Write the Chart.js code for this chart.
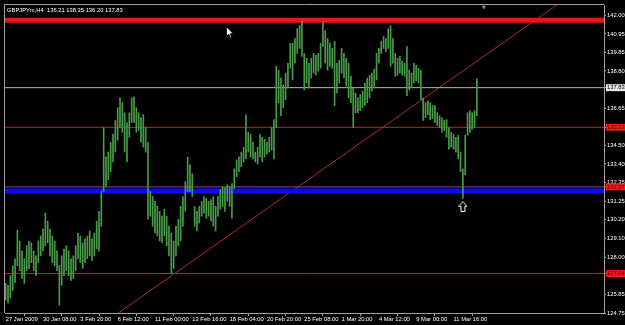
<!DOCTYPE html>
<html>
<head>
<meta charset="utf-8">
<script src="https://cdn.jsdelivr.net/npm/chart.js@4.4.1/dist/chart.umd.min.js"></script>
<style>
  html, body { margin: 0; padding: 0; background: #000; }
  canvas { display: block; }
</style>
</head>
<body>
<canvas id="chart" width="625" height="325"></canvas>
<script>
// GBPJPY H4 bars (one entry per bar, oldest first)
const barHigh = [
  126.47, 126.36, 126.92, 127.50, 127.90, 129.56, 128.93, 128.36, 127.90, 128.65,
  128.93, 128.82, 128.36, 128.07, 128.93, 129.22, 129.62, 130.54, 130.08, 129.62,
  129.22, 128.93, 128.36, 127.50, 128.07, 128.48, 128.65, 128.36, 127.90, 128.07,
  128.65, 129.39, 129.22, 128.82, 129.05, 129.22, 129.51, 129.05, 129.39, 130.08,
  130.65, 131.80, 135.52, 133.81, 134.09, 134.66, 135.12, 135.93, 136.67, 137.24,
  136.96, 136.38, 135.81, 136.38, 137.24, 137.30, 136.67, 136.38, 136.10, 136.27,
  135.52, 134.66, 131.80, 131.51, 131.23, 130.94, 130.65, 130.37, 130.77, 130.37,
  129.79, 129.39, 128.93, 129.79, 130.19, 130.94, 131.51, 132.37, 133.81, 133.35,
  132.83, 130.94, 130.65, 130.94, 131.23, 131.51, 131.40, 131.23, 131.34, 131.51,
  130.94, 131.51, 131.91, 132.09, 132.03, 132.20, 132.09, 132.26, 133.12, 133.63,
  133.81, 134.09, 134.38, 136.27, 135.24, 135.12, 134.66, 134.09, 134.38, 135.12,
  134.95, 134.84, 134.66, 134.95, 135.52, 135.98, 139.08, 138.85, 138.39, 137.99,
  138.68, 139.25, 140.40, 140.40, 140.68, 141.26, 141.43, 141.71, 139.82, 139.54,
  139.25, 139.54, 139.82, 139.71, 139.82, 140.40, 141.66, 141.14, 140.68, 140.40,
  140.11, 140.51, 139.25, 139.42, 140.11, 139.82, 139.54, 139.25, 138.50, 137.82,
  137.53, 137.24, 137.42, 137.64, 138.10, 138.39, 138.56, 138.68, 138.91, 139.82,
  140.11, 140.51, 140.80, 140.68, 141.26, 141.43, 140.68, 139.82, 139.54, 139.65,
  139.36, 139.25, 140.22, 138.85, 138.68, 139.25, 139.14, 138.96, 138.85, 137.24,
  136.96, 137.07, 136.96, 136.79, 136.79, 136.38, 136.21, 136.10, 135.93, 135.98,
  135.52, 135.24, 135.12, 134.95, 135.07, 134.09, 133.12, 135.07, 136.38, 136.50,
  136.38, 136.50, 138.35
];
const barLow = [
  125.50, 125.32, 125.61, 126.07, 126.53, 127.50, 127.21, 126.76, 126.47, 127.21,
  127.33, 127.67, 127.21, 126.92, 127.67, 128.07, 128.36, 128.65, 128.82, 128.07,
  127.67, 127.50, 127.21, 125.21, 126.36, 126.92, 127.21, 126.92, 126.64, 126.76,
  127.21, 127.90, 127.67, 127.33, 127.67, 127.90, 128.07, 127.79, 128.07, 128.48,
  128.36, 129.79, 131.80, 132.09, 132.49, 132.95, 133.52, 134.09, 134.78, 135.52,
  135.24, 134.09, 133.52, 134.95, 135.81, 135.81, 135.24, 135.35, 134.66, 134.38,
  134.09, 130.19, 130.37, 129.79, 129.39, 129.22, 128.93, 128.82, 129.22, 128.65,
  128.07, 127.04, 127.33, 128.07, 128.65, 128.93, 129.79, 130.65, 131.80, 131.80,
  131.51, 129.79, 129.51, 129.97, 130.37, 130.54, 130.25, 130.37, 130.08, 129.79,
  129.51, 130.37, 130.77, 130.94, 130.65, 131.23, 130.94, 130.25, 131.97, 132.66,
  132.95, 133.23, 133.52, 133.69, 134.09, 133.81, 133.69, 133.52, 133.40, 133.81,
  133.52, 133.81, 133.98, 134.09, 134.21, 133.69, 135.52, 136.96, 136.21, 136.67,
  137.13, 137.82, 138.96, 138.28, 139.25, 139.82, 140.11, 139.65, 137.70, 138.10,
  137.82, 138.39, 138.68, 138.56, 138.79, 138.96, 140.22, 139.25, 138.85, 139.08,
  138.96, 136.79, 137.53, 138.10, 138.68, 138.39, 137.93, 137.24, 136.96, 135.52,
  136.38, 136.38, 136.50, 136.67, 136.79, 136.96, 137.24, 137.64, 137.82, 138.28,
  139.25, 139.82, 140.11, 139.94, 140.11, 139.08, 139.25, 138.50, 138.56, 138.68,
  138.56, 138.50, 137.36, 137.70, 137.82, 138.10, 138.22, 138.10, 137.13, 135.93,
  136.10, 136.27, 135.98, 136.04, 135.81, 135.64, 135.52, 135.24, 135.35, 134.95,
  134.26, 134.38, 134.26, 134.09, 133.69, 132.95, 131.40, 132.77, 135.07, 135.24,
  135.41, 135.52, 136.20
];

const symbolName = 'GBPJPYm,H4';
const lastOHLC = [136.21, 138.35, 136.20, 137.83];

// time axis: a label every 16 bars
const xTickIndex = [0, 16, 32, 48, 64, 80, 96, 112, 128, 144, 160, 176, 192];
const xTickLabels = ['27 Jan 2009', '30 Jan 08:00', '3 Feb 20:00', '6 Feb 12:00', '11 Feb 00:00',
  '13 Feb 16:00', '18 Feb 04:00', '20 Feb 20:00', '25 Feb 08:00', '1 Mar 20:00',
  '4 Mar 12:00', '9 Mar 00:00', '11 Mar 16:00'];

// price scale
const yTickValues = [142.00, 140.95, 139.85, 138.80, 136.65, 134.50, 133.40, 132.35,
  131.25, 130.20, 129.10, 128.00, 125.85, 124.75];
const currentPrice = 137.83;
const redLevels = [135.53, 127.04];
const purpleLevel = 132.07;
const blueLevel = 131.83;
const topLevel = 141.75;

// trend line anchors (bar index, price)
const trendX = [48.3, 236.9];
const trendY = [124.75, 142.69];

// arrow object under the low, cursor and chart-shift marker
const arrowAt = [196, 130.94];
const cursorAt = [96.1, 141.03];
const shiftAt = [205, 142.52];

const X_MIN = -0.3, X_MAX = 256.5;
const Y_MIN = 124.75, Y_MAX = 142.63;

const FONT = '"Liberation Sans", Arial, sans-serif';

function hLine(price, color, width) {
  return {
    type: 'line',
    data: [{ x: X_MIN, y: price }, { x: X_MAX, y: price }],
    borderColor: color,
    borderWidth: width,
    pointRadius: 0,
    order: 1
  };
}

function arrowIcon() {
  const c = document.createElement('canvas');
  c.width = 9; c.height = 11;
  const g = c.getContext('2d');
  g.strokeStyle = '#ffffff';
  g.lineWidth = 1;
  g.beginPath();
  g.moveTo(4.5, 0.5);
  g.lineTo(8.5, 5.5);
  g.lineTo(6.5, 5.5);
  g.lineTo(6.5, 10.5);
  g.lineTo(2.5, 10.5);
  g.lineTo(2.5, 5.5);
  g.lineTo(0.5, 5.5);
  g.closePath();
  g.stroke();
  return c;
}

function cursorIcon() {
  const c = document.createElement('canvas');
  c.width = 8; c.height = 13;
  const g = c.getContext('2d');
  g.fillStyle = '#ffffff';
  g.strokeStyle = '#000000';
  g.lineWidth = 1;
  g.beginPath();
  g.moveTo(0.5, 0.5);
  g.lineTo(0.5, 10.5);
  g.lineTo(2.8, 8.3);
  g.lineTo(4.5, 12.3);
  g.lineTo(6, 11.6);
  g.lineTo(4.4, 7.8);
  g.lineTo(7.5, 7.8);
  g.closePath();
  g.fill();
  g.stroke();
  return c;
}

const specialLabels = [currentPrice, redLevels[0], purpleLevel, redLevels[1]];

const frame = {
  id: 'frame',
  afterDraw(chart) {
    const { ctx, chartArea } = chart;
    ctx.save();
    ctx.strokeStyle = '#a0a0a0';
    ctx.lineWidth = 1;
    ctx.beginPath();
    ctx.moveTo(chartArea.left - 0.5, chartArea.bottom);
    ctx.lineTo(chartArea.left - 0.5, chartArea.top - 0.5);
    ctx.lineTo(chartArea.right, chartArea.top - 0.5);
    ctx.stroke();
    ctx.fillStyle = '#ffffff';
    ctx.font = '5.8px ' + FONT;
    ctx.textBaseline = 'alphabetic';
    ctx.fillText(symbolName + '  ' + lastOHLC.map(v => v.toFixed(2)).join(' '),
      chartArea.left + 2, chartArea.top + 7);
    ctx.restore();
  }
};

new Chart(document.getElementById('chart'), {
  data: {
    datasets: [
      {
        type: 'bar',
        data: barHigh.map((h, i) => ({ x: i, y: [barLow[i], h] })),
        backgroundColor: 'rgb(72,156,72)',
        borderWidth: 0,
        barThickness: 1,
        grouped: false,
        order: 0
      },
      hLine(topLevel, '#f21212', 5),
      hLine(blueLevel, '#0a0af5', 5),
      hLine(purpleLevel, '#9a3c9a', 1),
      hLine(currentPrice, '#b8b8b8', 1),
      hLine(redLevels[0], '#a8302c', 1),
      hLine(redLevels[1], '#a8302c', 1),
      {
        type: 'line',
        data: trendX.map((x, i) => ({ x: x, y: trendY[i] })),
        borderColor: '#a8302c',
        borderWidth: 1,
        pointRadius: 0,
        order: 1
      },
      {
        type: 'scatter',
        data: [{ x: arrowAt[0], y: arrowAt[1] }],
        pointStyle: arrowIcon(),
        order: -1
      },
      {
        type: 'scatter',
        data: [{ x: cursorAt[0], y: cursorAt[1] }],
        pointStyle: cursorIcon(),
        order: -1
      },
      {
        type: 'scatter',
        data: [{ x: shiftAt[0], y: shiftAt[1] }],
        pointStyle: 'triangle',
        rotation: 180,
        radius: 2.5,
        backgroundColor: '#8c8c8c',
        borderWidth: 0,
        order: -1
      }
    ]
  },
  options: {
    responsive: false,
    animation: false,
    devicePixelRatio: 1,
    layout: { padding: { left: 2, top: 1, right: 0, bottom: 0 } },
    plugins: { legend: { display: false }, tooltip: { enabled: false } },
    scales: {
      x: {
        type: 'linear',
        min: X_MIN,
        max: X_MAX,
        offset: false,
        afterBuildTicks: s => { s.ticks = xTickIndex.map(v => ({ value: v })); },
        afterFit: s => { s.height = 12; },
        grid: { display: true, drawOnChartArea: false, tickLength: 3, color: '#a0a0a0' },
        border: { display: true, color: '#a0a0a0' },
        ticks: {
          autoSkip: false,
          maxRotation: 0,
          align: 'start',
          padding: 0,
          color: '#ffffff',
          font: { size: 5.8, family: FONT },
          callback: v => xTickLabels[xTickIndex.indexOf(v)]
        }
      },
      y: {
        type: 'linear',
        position: 'right',
        min: Y_MIN,
        max: Y_MAX,
        afterBuildTicks: s => {
          s.ticks = yTickValues.concat(specialLabels).map(v => ({ value: v }));
        },
        afterFit: s => { s.width = 21; },
        grid: { display: true, drawOnChartArea: false, tickLength: 2, color: '#a0a0a0' },
        border: { display: true, color: '#a0a0a0' },
        ticks: {
          autoSkip: false,
          padding: 1,
          font: { size: 5.8, family: FONT },
          callback: v => v.toFixed(2),
          color: c => {
            const v = c.tick && c.tick.value;
            if (v === currentPrice) return '#000000';
            if (specialLabels.includes(v)) return '#6e0000';
            return '#ffffff';
          },
          showLabelBackdrop: c => specialLabels.includes(c.tick && c.tick.value),
          backdropColor: c => (c.tick && c.tick.value === currentPrice) ? '#e8e8e8' : '#f01818',
          backdropPadding: { top: 0, bottom: 0, left: 1, right: 3 }
        }
      }
    }
  },
  plugins: [frame]
});
</script>
</body>
</html>
